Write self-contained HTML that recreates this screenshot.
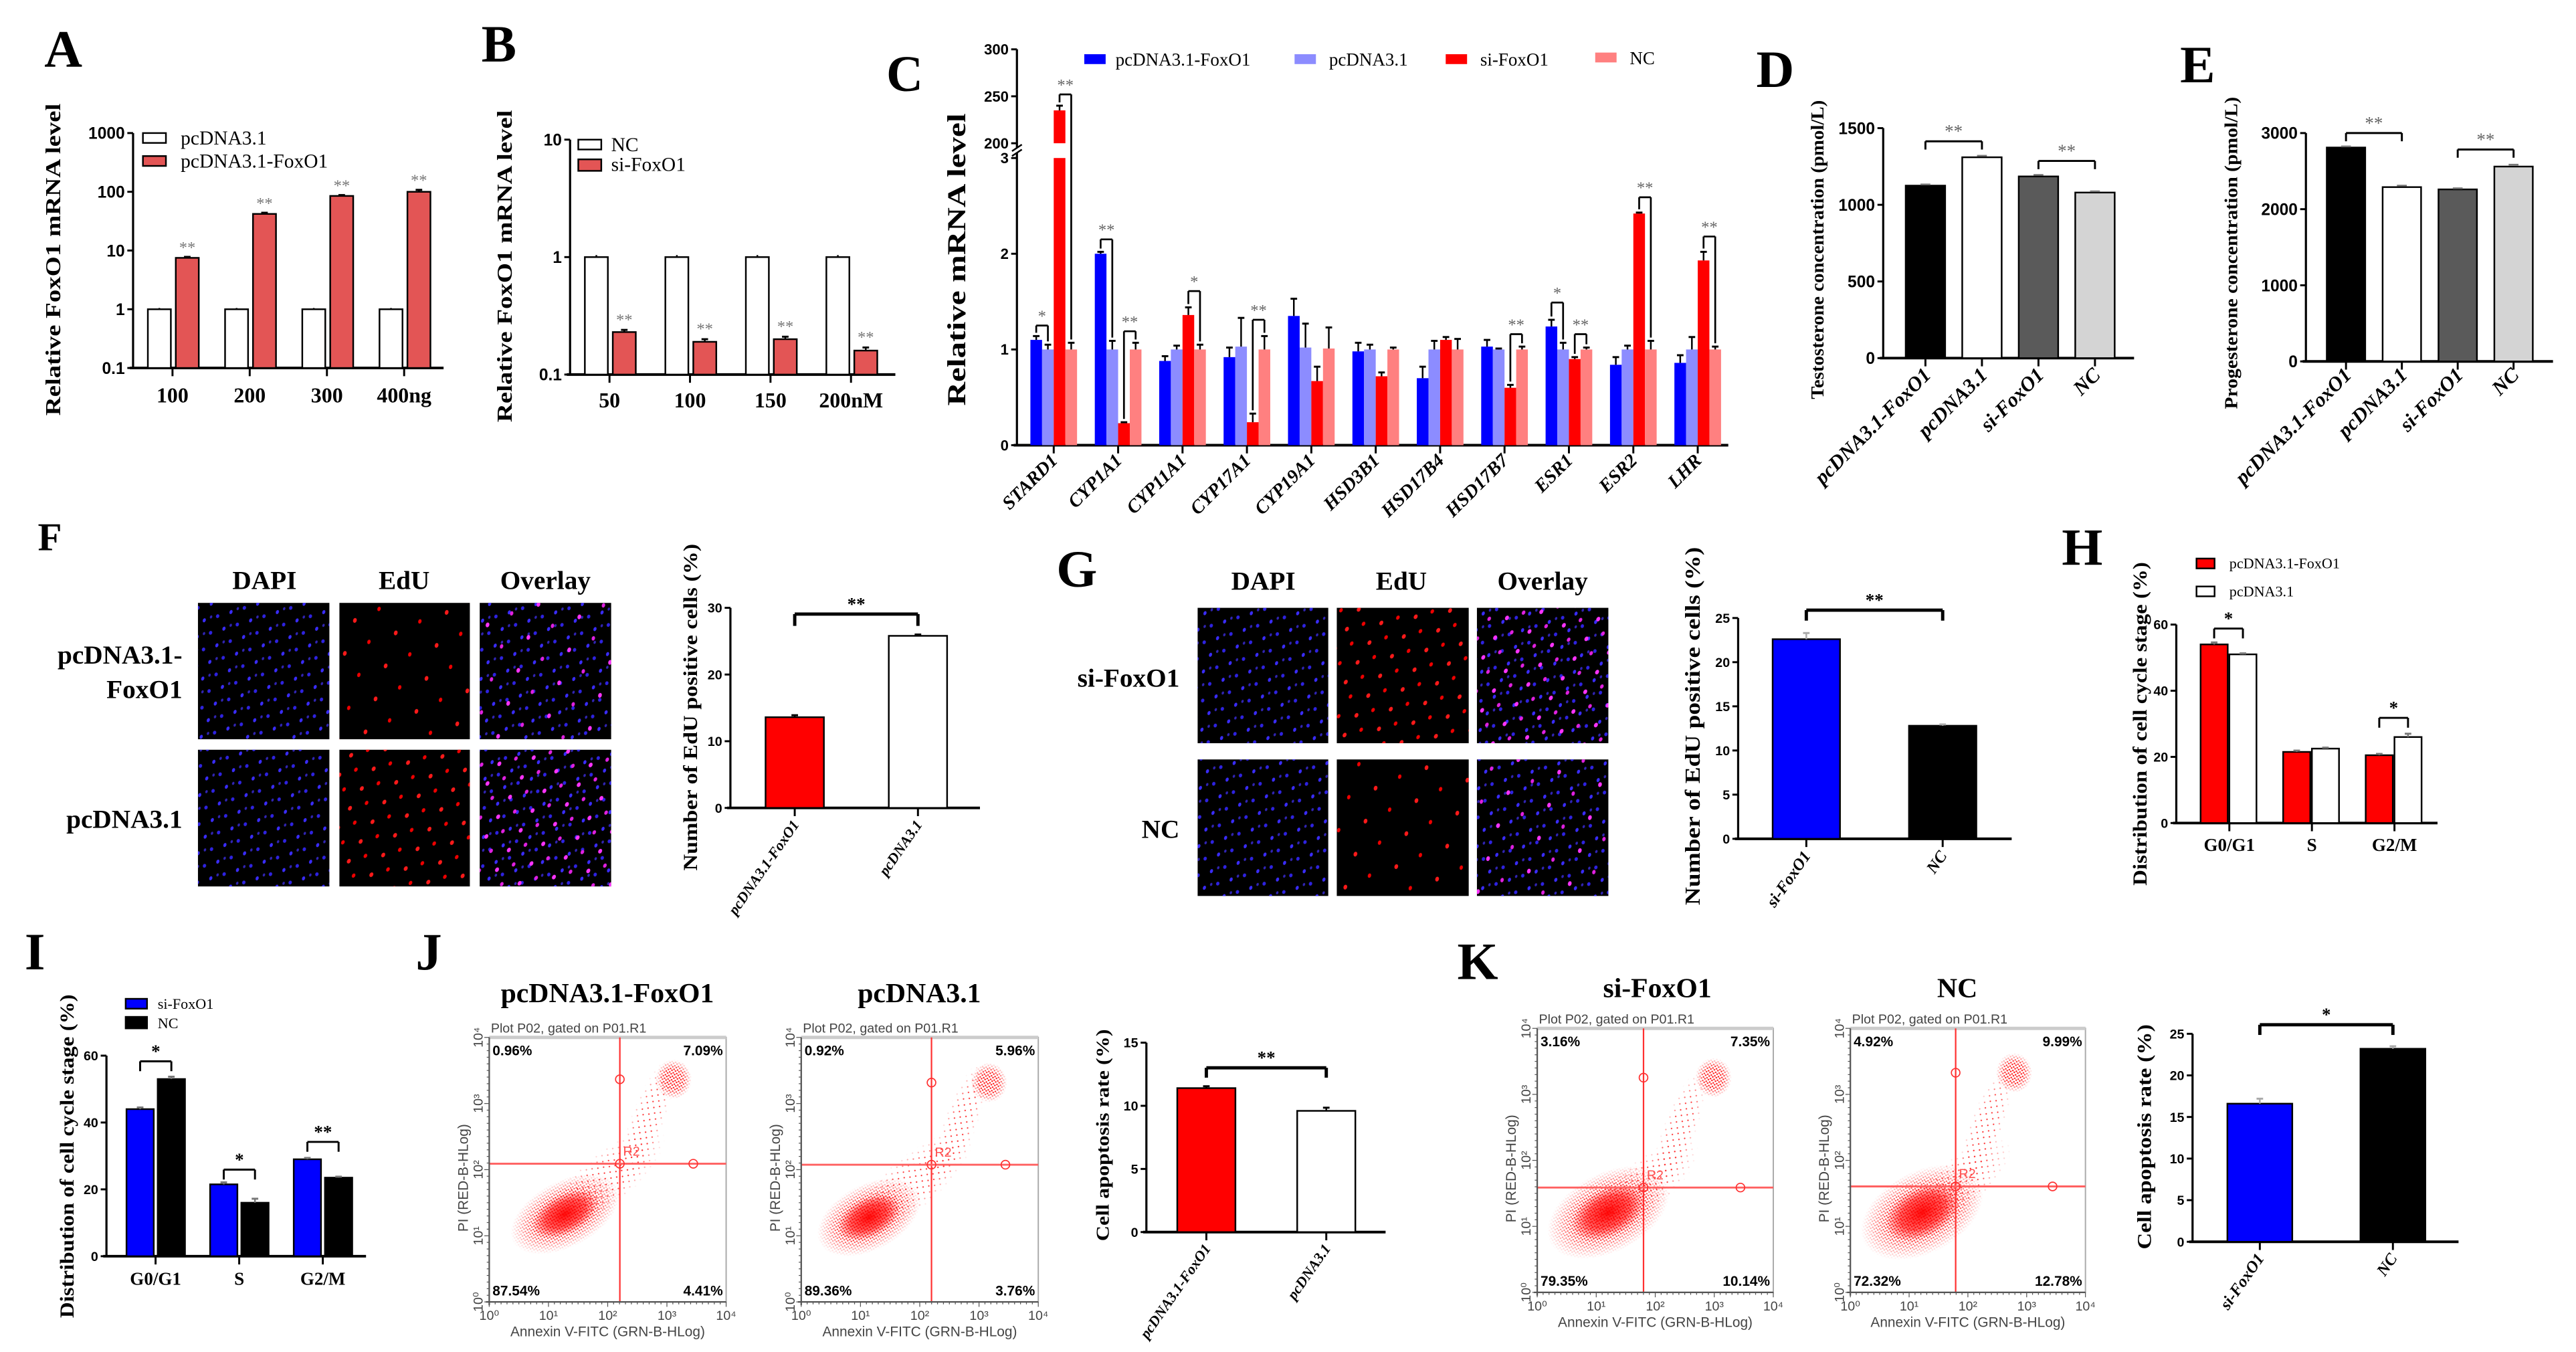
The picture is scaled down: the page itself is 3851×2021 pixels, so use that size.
<!DOCTYPE html>
<html><head><meta charset="utf-8"><style>
html,body{margin:0;padding:0;background:#fff;}
svg{display:block;}
</style></head><body>
<svg id="fig" xmlns="http://www.w3.org/2000/svg" width="3851" height="2021" viewBox="0 0 1568 823" preserveAspectRatio="none">
<defs>
<pattern id="dapiPat" width="13" height="11" patternUnits="userSpaceOnUse" patternTransform="rotate(23)">
<ellipse cx="2" cy="2" rx="0.9" ry="1.3" fill="#3a2cff"/><ellipse cx="8.5" cy="7.5" rx="1" ry="1.2" fill="#2e22e0"/><ellipse cx="5" cy="9.5" rx="0.7" ry="1" fill="#4433ff" opacity="0.7"/>
</pattern>
<pattern id="eduPat" width="26" height="21" patternUnits="userSpaceOnUse" patternTransform="rotate(17)">
<ellipse cx="5" cy="4" rx="1.1" ry="1.5" fill="#ff1a1a"/><ellipse cx="17" cy="14" rx="1" ry="1.4" fill="#e00"/>
</pattern>
<pattern id="eduPat2" width="16" height="14" patternUnits="userSpaceOnUse" patternTransform="rotate(31)">
<ellipse cx="4" cy="4" rx="1.1" ry="1.5" fill="#ff1a1a"/><ellipse cx="11" cy="10" rx="1" ry="1.4" fill="#e00"/>
</pattern>
<pattern id="magPat" width="16" height="14" patternUnits="userSpaceOnUse" patternTransform="rotate(31)">
<ellipse cx="4" cy="4" rx="1.1" ry="1.5" fill="#ff33ff"/><ellipse cx="11" cy="10" rx="1" ry="1.4" fill="#e020e0"/>
</pattern>
<pattern id="magPat1" width="26" height="21" patternUnits="userSpaceOnUse" patternTransform="rotate(17)">
<ellipse cx="5" cy="4" rx="1.1" ry="1.5" fill="#ff33ff"/><ellipse cx="17" cy="14" rx="1" ry="1.4" fill="#e020e0"/>
</pattern>
<pattern id="dotPat" width="2.2" height="2.2" patternUnits="userSpaceOnUse" patternTransform="rotate(13)">
<circle cx="0.6" cy="0.7" r="0.5" fill="#ff1010"/><circle cx="1.7" cy="1.6" r="0.5" fill="#ff1010"/>
</pattern>
<pattern id="sparsePat" width="5" height="5" patternUnits="userSpaceOnUse" patternTransform="rotate(37)">
<circle cx="1" cy="1.3" r="0.45" fill="#ff2020"/><circle cx="3.6" cy="3.9" r="0.45" fill="#ff2020"/>
</pattern>
<radialGradient id="fade"><stop offset="0" stop-color="#fff"/><stop offset="0.55" stop-color="#fff" stop-opacity="0.9"/><stop offset="1" stop-color="#fff" stop-opacity="0"/></radialGradient>
<radialGradient id="coreGrad"><stop offset="0" stop-color="#ff0000" stop-opacity="0.95"/><stop offset="0.6" stop-color="#ff0000" stop-opacity="0.6"/><stop offset="1" stop-color="#ff0000" stop-opacity="0"/></radialGradient>
</defs>

<g>
<text x="23" y="335" font-family="Liberation Serif" font-weight="bold" font-size="24">F</text>
<text x="161" y="358.5" text-anchor="middle" font-family="Liberation Serif" font-weight="bold" font-size="16">DAPI</text>
<text x="246" y="358.5" text-anchor="middle" font-family="Liberation Serif" font-weight="bold" font-size="16">EdU</text>
<text x="332" y="358.5" text-anchor="middle" font-family="Liberation Serif" font-weight="bold" font-size="16">Overlay</text>
<text x="111" y="404" text-anchor="end" font-family="Liberation Serif" font-weight="bold" font-size="16">pcDNA3.1-</text>
<text x="111" y="425" text-anchor="end" font-family="Liberation Serif" font-weight="bold" font-size="16">FoxO1</text>
<text x="111" y="504" text-anchor="end" font-family="Liberation Serif" font-weight="bold" font-size="16">pcDNA3.1</text>
<rect x="120.5" y="367" width="80" height="83" fill="#000"/><rect x="120.5" y="367" width="80" height="83" fill="url(#dapiPat)"/>
<rect x="206.6" y="367" width="79.4" height="83" fill="#000"/><rect x="206.6" y="367" width="79.4" height="83" fill="url(#eduPat)"/>
<rect x="292" y="367" width="80" height="83" fill="#000"/><rect x="292" y="367" width="80" height="83" fill="url(#dapiPat)"/><rect x="292" y="367" width="80" height="83" fill="url(#magPat1)"/>
<rect x="120.5" y="456.4" width="80" height="83.2" fill="#000"/><rect x="120.5" y="456.4" width="80" height="83.2" fill="url(#dapiPat)"/>
<rect x="206.6" y="456.4" width="79.4" height="83.2" fill="#000"/><rect x="206.6" y="456.4" width="79.4" height="83.2" fill="url(#eduPat2)"/>
<rect x="292" y="456.4" width="80" height="83.2" fill="#000"/><rect x="292" y="456.4" width="80" height="83.2" fill="url(#dapiPat)"/><rect x="292" y="456.4" width="80" height="83.2" fill="url(#magPat)"/>
</g>
<g>
<text x="643" y="357" font-family="Liberation Serif" font-weight="bold" font-size="32">G</text>
<text x="769" y="359" text-anchor="middle" font-family="Liberation Serif" font-weight="bold" font-size="16">DAPI</text>
<text x="853" y="359" text-anchor="middle" font-family="Liberation Serif" font-weight="bold" font-size="16">EdU</text>
<text x="939" y="359" text-anchor="middle" font-family="Liberation Serif" font-weight="bold" font-size="16">Overlay</text>
<text x="718" y="418" text-anchor="end" font-family="Liberation Serif" font-weight="bold" font-size="16">si-FoxO1</text>
<text x="718" y="510" text-anchor="end" font-family="Liberation Serif" font-weight="bold" font-size="16">NC</text>
<rect x="729" y="370" width="79.5" height="82.4" fill="#000"/><rect x="729" y="370" width="79.5" height="82.4" fill="url(#dapiPat)"/>
<rect x="813.7" y="370" width="80.3" height="82.4" fill="#000"/><rect x="813.7" y="370" width="80.3" height="82.4" fill="url(#eduPat2)"/>
<rect x="899" y="370" width="80" height="82.4" fill="#000"/><rect x="899" y="370" width="80" height="82.4" fill="url(#dapiPat)"/><rect x="899" y="370" width="80" height="82.4" fill="url(#magPat)"/>
<rect x="729" y="462.3" width="79.5" height="83.1" fill="#000"/><rect x="729" y="462.3" width="79.5" height="83.1" fill="url(#dapiPat)"/>
<rect x="813.7" y="462.3" width="80.3" height="83.1" fill="#000"/><rect x="813.7" y="462.3" width="80.3" height="83.1" fill="url(#eduPat)"/>
<rect x="899" y="462.3" width="80" height="83.1" fill="#000"/><rect x="899" y="462.3" width="80" height="83.1" fill="url(#dapiPat)"/><rect x="899" y="462.3" width="80" height="83.1" fill="url(#magPat1)"/>
</g>
</svg>
<script>
// ---------- DATA ----------
const aCats = ['100','200','300','400ng'];
const aCtrl = [1,1,1,1];
const aFox = [7.5,42,85,100];
const aFoxErr = [0.3,2,3,8];
const aTicks = [0.1,1,10,100,1000];
const aTickLabels = ['0.1','1','10','100','1000'];

const bCats = ['50','100','150','200nM'];
const bNC = [1,1,1,1];
const bSi = [0.23,0.19,0.2,0.16];
const bSiErr = [0.01,0.01,0.01,0.01];
const bTicks = [0.1,1,10];
const bTickLabels = ['0.1','1','10'];

const cGenes = ['STARD1','CYP1A1','CYP11A1','CYP17A1','CYP19A1','HSD3B1','HSD17B4','HSD17B7','ESR1','ESR2','LHR'];
const cFox = [1.1,2.0,0.88,0.92,1.35,0.98,0.7,1.03,1.24,0.84,0.86];
const cPc = [1.0,1.0,1.0,1.03,1.02,1.0,1.0,1.0,1.0,1.0,1.0];
const cSi = [235,0.23,1.36,0.24,0.67,0.72,1.1,0.6,0.9,2.42,1.93];
const cNC = [1.0,1.0,1.0,1.0,1.01,1.0,1.0,1.0,1.0,1.0,1.0];
const cFoxErr = [0.04,0.02,0.05,0.1,0.18,0.09,0.12,0.07,0.07,0.08,0.08];
const cPcErr = [0.05,0.09,0.04,0.3,0.25,0.05,0.09,0.01,0.07,0.04,0.13];
const cSiErr = [5,0.01,0.08,0.09,0.15,0.04,0.03,0.03,0.02,0.01,0.09];
const cNCErr = [0.07,0.07,0.05,0.14,0.22,0.02,0.11,0.03,0.02,0.09,0.03];
const cLowTicks = [0,1,2,3];
const cHighTicks = [200,250,300];
const cSigGene = [0,0,1,1,2,3,7,8,8,9,10];
const cSigPair = ['bl','rn','bl','rn','rn','rn','rn','bl','rn','rn','rn'];
const cSigLabel = ['*','**','**','**','*','**','**','*','**','**','**'];
const cSigLevel = [1.25,252,2.15,1.19,1.61,1.31,1.16,1.49,1.16,2.59,2.18];

const dCats = ['pcDNA3.1-FoxO1','pcDNA3.1','si-FoxO1','NC'];
const dVals = [1125,1310,1185,1080];
const dErr = [8,10,10,8];
const dTicks = [0,500,1000,1500];
const dSigFrom = [0,2]; const dSigTo = [1,3]; const dSigLevel = [1414,1286]; const dSigLabel = ['**','**'];

const eCats = ['pcDNA3.1-FoxO1','pcDNA3.1','si-FoxO1','NC'];
const eVals = [2810,2290,2260,2560];
const eErr = [15,20,15,25];
const eTicks = [0,1000,2000,3000];
const eSigFrom = [0,2]; const eSigTo = [1,3]; const eSigLevel = [3000,2784]; const eSigLabel = ['**','**'];

const fCats = ['pcDNA3.1-FoxO1','pcDNA3.1'];
const fVals = [13.6,25.8];
const fErr = [0.3,0.2];
const fTicks = [0,10,20,30];

const gCats = ['si-FoxO1','NC'];
const gVals = [22.6,12.8];
const gErr = [0.7,0.15];
const gTicks = [0,5,10,15,20,25];

const hCats = ['G0/G1','S','G2/M'];
const hFox = [54,21.5,20.5];
const hPc = [51,22.5,26];
const hFoxErr = [0.6,0.4,0.4];
const hPcErr = [0.3,0.3,1.0];
const hTicks = [0,20,40,60];
const hSigGroup = [0,2]; const hSigLevel = [58.8,31.8]; const hSigLabel = ['*','*'];

const iCats = ['G0/G1','S','G2/M'];
const iSi = [44,21.5,29];
const iNC = [53,16,23.5];
const iSiErr = [0.5,0.6,0.4];
const iNCErr = [0.7,1.2,0.3];
const iTicks = [0,20,40,60];
const iSigGroup = [0,1,2]; const iSigLevel = [58.3,25.9,34.2]; const iSigLabel = ['*','*','**'];

const jCats = ['pcDNA3.1-FoxO1','pcDNA3.1'];
const jVals = [11.4,9.6];
const jErr = [0.15,0.25];
const jTicks = [0,5,10,15];

const kCats = ['si-FoxO1','NC'];
const kVals = [16.6,23.2];
const kErr = [0.6,0.3];
const kTicks = [0,5,10,15,20,25];

const jPcts1 = ['0.96%','7.09%','87.54%','4.41%'];
const jPcts2 = ['0.92%','5.96%','89.36%','3.76%'];
const kPcts1 = ['3.16%','7.35%','79.35%','10.14%'];
const kPcts2 = ['4.92%','9.99%','72.32%','12.78%'];

// ---------- HELPERS ----------
const NS='http://www.w3.org/2000/svg';
const svg=document.getElementById('fig');
const SERIF='Liberation Serif, serif';
const NARROW='Liberation Sans Narrow, Liberation Sans, sans-serif';
function mk(tag, attrs, parent){const e=document.createElementNS(NS,tag);for(const k in attrs)e.setAttribute(k,attrs[k]);(parent||svg).appendChild(e);return e;}
function T(parent,x,y,s,attrs){const e=mk('text',Object.assign({x:x,y:y},attrs||{}),parent);e.textContent=s;return e;}
function group(name){const g=mk('g',{});


return g;}
function line(g,x1,y1,x2,y2,col,w){return mk('line',{x1:x1,y1:y1,x2:x2,y2:y2,stroke:col||'#000','stroke-width':w||1.3},g);}
function letter(g,s,x,y,fs){const t=T(g,x,y,s,{'font-family':SERIF,'font-weight':'bold','font-size':fs||32});

}
function yTitle(g,cx,cy,s,fs,len){const x=cx+fs*0.35;const t=T(g,x,cy,s,{'font-family':SERIF,'font-weight':'bold','font-size':fs,'text-anchor':'middle',transform:'rotate(-90 '+x+' '+cy+')',textLength:len,lengthAdjust:'spacingAndGlyphs'});

}
function yAxis(g,x,yb,yt,vals,labels,yf,fs,extraTopPad){line(g,x,yb,x,yt-(extraTopPad||0),'#000',1.3);
for(let i=0;i<vals.length;i++){const y=yf(vals[i]);line(g,x-3.5,y,x,y,'#000',1.2);
const t=T(g,x-5,y+fs*0.36,labels?labels[i]:String(vals[i]),{'font-family':NARROW,'font-weight':'bold','font-size':fs,'text-anchor':'end'});

}}
function xAxis(g,x0,x1,y,centers){line(g,x0,y,x1,y,'#000',1.6);for(const c of centers)line(g,c,y,c,y+5,'#000',1.2);}
function bar(g,x,w,y0,y,fill,stroke,name){const r=mk('rect',{x:x,y:Math.min(y,y0),width:w,height:Math.abs(y0-y),fill:fill,stroke:stroke||'none','stroke-width':stroke?1:0},g);


return r;}
function err(g,cx,y,ye,col){line(g,cx,y,cx,ye,col||'#000',1);line(g,cx-2,ye,cx+2,ye,col||'#000',1.2);}
function bracket(g,x1,x2,yl,yb1,yb2,label,col,fs,w,bold){line(g,x1,yb1,x1,yl,'#000',w||1.1);line(g,x1,yl,x2,yl,'#000',w||1.1);line(g,x2,yl,x2,yb2,'#000',w||1.1);
const t=T(g,(x1+x2)/2,yl-2.5,label,{'font-family':SERIF,'font-size':fs||10,'text-anchor':'middle',fill:col||'#666','font-weight':bold?'bold':'normal'});

}
function rotLabel(g,x,y,s,ang,fs,ital){const t=T(g,x,y,s,{'font-family':SERIF,'font-weight':'bold','font-style':ital?'italic':'normal','font-size':fs,'text-anchor':'end',transform:'rotate('+ang+' '+x+' '+y+')'});

}
function xLabel(g,x,y,s,fs){const t=T(g,x,y,s,{'font-family':SERIF,'font-weight':'bold','font-size':fs,'text-anchor':'middle'});

}
function legendEntry(g,x,y,w,h,fill,stroke,label,fs,tx,ty){const r=mk('rect',{x:x,y:y,width:w,height:h,fill:fill,stroke:stroke||'none','stroke-width':1},g);


const t=T(g,tx,ty,label,{'font-family':SERIF,'font-size':fs});

}

// ---------- PANEL A ----------
(function(){const g=group('panel-a-chart');letter(g,'A',27,40.5);
const yf=v=>224-(Math.log10(v)+1)*35.75;const cx=i=>105+i*47;
yAxis(g,81,224,81,aTicks,aTickLabels,yf,10);
xAxis(g,79,270,224,aCats.map((c,i)=>cx(i)));
for(let i=0;i<aCats.length;i++){
bar(g,cx(i)-15,14,224,yf(aCtrl[i]),'#fff','#000','bar-pcdna');
line(g,cx(i)-8,yf(aCtrl[i]),cx(i)-8,yf(aCtrl[i]*1.05),'#000',1);
bar(g,cx(i)+2,14,224,yf(aFox[i]),'#e35555','#000','bar-pcdna-foxo1');
err(g,cx(i)+9,yf(aFox[i]),yf(aFox[i]+aFoxErr[i]));
const s=T(g,cx(i)+9,yf(aFox[i]+aFoxErr[i])-2.5,'**',{'font-family':SERIF,'font-size':10,'text-anchor':'middle',fill:'#777'});


xLabel(g,cx(i),245,aCats[i],13);}
legendEntry(g,87,81,14,6,'#fff','#000','pcDNA3.1',12,110,88);
legendEntry(g,87,95,14,6,'#e35555','#000','pcDNA3.1-FoxO1',12,110,102);
yTitle(g,32,158,'Relative FoxO1 mRNA level',13,190);})();

// ---------- PANEL B ----------
(function(){const g=group('panel-b-chart');letter(g,'B',293,37.5);
const yf=v=>228-(Math.log10(v)+1)*71.5;const cx=i=>371+i*49;
yAxis(g,347,228,85,bTicks,bTickLabels,yf,10);
xAxis(g,345,545,228,bCats.map((c,i)=>cx(i)));
for(let i=0;i<bCats.length;i++){
bar(g,cx(i)-15,14,228,yf(bNC[i]),'#fff','#000','bar-nc');
line(g,cx(i)-8,yf(bNC[i]),cx(i)-8,yf(bNC[i]*1.04),'#000',1);
bar(g,cx(i)+2,14,228,yf(bSi[i]),'#e35555','#000','bar-si-foxo1');
err(g,cx(i)+9,yf(bSi[i]),yf(bSi[i]+bSiErr[i]));
const s=T(g,cx(i)+9,yf(bSi[i]+bSiErr[i])-3,'**',{'font-family':SERIF,'font-size':10,'text-anchor':'middle',fill:'#777'});


xLabel(g,cx(i),248,bCats[i],13);}
legendEntry(g,352,85,14,6,'#fff','#000','NC',12,372,92);
legendEntry(g,352,97,14,7,'#e35555','#000','si-FoxO1',12,372,104);
yTitle(g,307,162,'Relative FoxO1 mRNA level',13,190);})();

// ---------- PANEL C ----------
(function(){const g=group('panel-c-chart');letter(g,'C',539.5,55.4,31);
const ylo=v=>271-v*58.27;const yhi=v=>87.2-(v-200)*0.5717;
const yv=v=>v>=200?yhi(v):ylo(v);
const tx=i=>641.4+i*39.2;const bw=7.1;
line(g,619,271,619,93,'#000',1.3);line(g,619,90,619,30,'#000',1.3);
line(g,616,95,622,91,'#000',1);line(g,616,92,622,88,'#000',1);
for(const v of cLowTicks){line(g,615.5,ylo(v),619,ylo(v),'#000',1.2);const t=T(g,614,ylo(v)+3.2,String(v),{'font-family':NARROW,'font-weight':'bold','font-size':9,'text-anchor':'end'});

}
for(const v of cHighTicks){line(g,615.5,yhi(v),619,yhi(v),'#000',1.2);const t=T(g,614,yhi(v)+3.2,String(v),{'font-family':NARROW,'font-weight':'bold','font-size':9,'text-anchor':'end'});

}
xAxis(g,617,1052,271,cGenes.map((c,i)=>tx(i)));
const series=[[cFox,cFoxErr,'#0000ff','bar-pcdna-foxo1'],[cPc,cPcErr,'#8c8cff','bar-pcdna'],[cSi,cSiErr,'#ff0000','bar-si-foxo1'],[cNC,cNCErr,'#ff8080','bar-nc']];
const topOf=(s,i)=>yv(series[s][0][i]+series[s][1][i]);
for(let i=0;i<cGenes.length;i++){
for(let s=0;s<4;s++){const v=series[s][0][i],e=series[s][1][i];const x=tx(i)-14.2+s*bw;
if(v>=200){bar(g,x,bw,271,ylo(3),series[s][2],null,series[s][3]);bar(g,x,bw,yhi(200),yhi(v),series[s][2],null,series[s][3]);}
else bar(g,x,bw,271,ylo(v),series[s][2],null,series[s][3]);
err(g,x+bw/2,yv(v),yv(v+e));}
rotLabel(g,tx(i)+3,281,cGenes[i],-45,11.5,true);}
for(let k=0;k<cSigGene.length;k++){const i=cSigGene[k];const a=cSigPair[k]==='bl'?0:2;
const x1=tx(i)-14.2+a*bw+bw/2,x2=x1+bw;const yl=yv(cSigLevel[k]);
bracket(g,x1,x2,yl,topOf(a,i)-2,topOf(a+1,i)-2,cSigLabel[k],'#666',10,1.1);}
legendEntry(g,660,33,13,6,'#0000ff',null,'pcDNA3.1-FoxO1',11,679,40);
legendEntry(g,788,33,13,6,'#8c8cff',null,'pcDNA3.1',11,809,40);
legendEntry(g,880,33,13,6,'#ff0000',null,'si-FoxO1',11,901,40);
legendEntry(g,971,32,13,6,'#ff8080',null,'NC',11,992,39);
yTitle(g,582,158,'Relative mRNA level',16,178);})();

// ---------- PANELS D/E ----------
function concChart(name,L,lx,ly,ax,y0,ytop,vmax,xEnd,c0,step,bw,vals,errs,ticks,cats,sf,st,sl,slab,title,tcx,tcy,tlen){
const g=group(name);letter(g,L,lx,ly);
const yf=v=>y0-v*(y0-ytop)/vmax;const cx=i=>c0+i*step;
yAxis(g,ax,y0,ytop,ticks,null,yf,10);
xAxis(g,ax-2,xEnd,y0,cats.map((c,i)=>cx(i)));
const fills=['#000','#fff','#5a5a5a','#d4d4d4'];
const names=['bar-pcdna-foxo1','bar-pcdna','bar-si-foxo1','bar-nc'];
for(let i=0;i<vals.length;i++){bar(g,cx(i)-bw/2,bw,y0,yf(vals[i]),fills[i],'#000',names[i]);
line(g,cx(i)-3,yf(vals[i]+errs[i]),cx(i)+3,yf(vals[i]+errs[i]),'#777',1);
rotLabel(g,cx(i)+4,229,cats[i],-45,12.5,true);}
for(let k=0;k<sf.length;k++){const yl=yf(sl[k]);bracket(g,cx(sf[k]),cx(st[k]),yl,yl+5,yl+5,slab[k],'#666',11,1.2);}
yTitle(g,tcx,tcy,title,11,tlen);}
concChart('panel-d-chart','D',1069,53,1146.3,218,78,1500,1299,1172,34.4,24,dVals,dErr,dTicks,dCats,dSigFrom,dSigTo,dSigLevel,dSigLabel,'Testosterone concentration (pmol/L)',1106,152,182);
concChart('panel-e-chart','E',1327,50,1403.6,220,81,3000,1554,1428,34,23.4,eVals,eErr,eTicks,eCats,eSigFrom,eSigTo,eSigLevel,eSigLabel,'Progesterone concentration (pmol/L)',1358,154,190);

// ---------- TWO-BAR CHARTS (F, G, J, K) ----------
function twoBar(name,ax,y0,ytop,vmax,xEnd,lefts,bw,vals,errs,ticks,cats,fills,names,errCol,yl,legY,slab,title,tcx,tcy,tlen,tfs,lfs,labY){
const g=group(name);const yf=v=>y0-v*(y0-ytop)/vmax;
yAxis(g,ax,y0,ytop,ticks,null,yf,8);
const cs=lefts.map(l=>l+bw/2);
xAxis(g,ax-2,xEnd,y0,cs);
for(let i=0;i<vals.length;i++){bar(g,lefts[i],bw,y0,yf(vals[i]),fills[i],'#000',names[i]);
err(g,cs[i],yf(vals[i]),yf(vals[i]+errs[i]),errCol);
rotLabel(g,cs[i]+3,labY,cats[i],-55,lfs,true);}
bracket(g,cs[0],cs[1],yl,legY,legY,slab,'#000',11,2,true);
yTitle(g,tcx,tcy,title,tfs,tlen);}
twoBar('panel-f-chart',444.6,491.8,370,30,596.5,[466,541],35.5,fVals,fErr,fTicks,fCats,['#ff0000','#fff'],['bar-pcdna-foxo1','bar-pcdna'],'#000',373.8,381,'**','Number of EdU positive cells (%)',420,430.5,199,12,9,502);
twoBar('panel-g-chart',1058,510.6,376.2,25,1224.5,[1079,1162],41,gVals,gErr,gTicks,gCats,['#0000ff','#000'],['bar-si-foxo1','bar-nc'],'#aaa',371.4,377.8,'**','Number of EdU positive cells (%)',1030,442,218,13,10,521);
twoBar('panel-j-chart',697.8,750,634.7,15,843.4,[716.6,789.6],35.4,jVals,jErr,jTicks,jCats,['#ff0000','#fff'],['bar-pcdna-foxo1','bar-pcdna'],'#000',650,656,'**','Cell apoptosis rate (%)',671,691,129,11,9,760);
twoBar('panel-k-chart',1334.6,755.9,629.3,25,1496.5,[1355.8,1436.8],39.5,kVals,kErr,kTicks,kCats,['#0000ff','#000'],['bar-si-foxo1','bar-nc'],'#aaa',623.8,630,'*','Cell apoptosis rate (%)',1305,692,137,12,10,766);

// ---------- GROUPED (H, I) ----------
function cycleChart(name,L,lx,ly,ax,y0,ytop,xEnd,c0,step,offA,offB,bw,A,B,Ae,Be,ticks,cats,fillA,fillB,nameA,nameB,sg,sl,slab,labY,title,tcx,tcy,tlen){
const g=group(name);letter(g,L,lx,ly);
const yf=v=>y0-v*(y0-ytop)/60;const cx=i=>c0+i*step;
yAxis(g,ax,y0,ytop,ticks,null,yf,8);
xAxis(g,ax-2,xEnd,y0,cats.map((c,i)=>cx(i)));
for(let i=0;i<cats.length;i++){
bar(g,cx(i)+offA,bw,y0,yf(A[i]),fillA,'#000',nameA);err(g,cx(i)+offA+bw/2,yf(A[i]),yf(A[i]+Ae[i]),'#777');
bar(g,cx(i)+offB,bw,y0,yf(B[i]),fillB,'#000',nameB);err(g,cx(i)+offB+bw/2,yf(B[i]),yf(B[i]+Be[i]),'#777');
xLabel(g,cx(i),labY,cats[i],11);}
for(let k=0;k<sg.length;k++){const i=sg[k];const yl=yf(sl[k]);bracket(g,cx(i)+offA+bw/2,cx(i)+offB+bw/2,yl,yl+6,yl+6,slab[k],'#000',11,1.2,true);}
yTitle(g,tcx,tcy,title,12,tlen);return g;}
const gh=cycleChart('panel-h-chart','H',1255,344,1324.7,501,380.2,1483.7,1357,50.25,-17.5,0,16.5,hFox,hPc,hFoxErr,hPcErr,hTicks,hCats,'#ff0000','#fff','bar-pcdna-foxo1','bar-pcdna',hSigGroup,hSigLevel,hSigLabel,518,'Distribution of cell cycle stage (%)',1302.5,440.6,197);
legendEntry(gh,1337,340,11,6,'#ff0000','#000','pcDNA3.1-FoxO1',9,1357,346);
legendEntry(gh,1337,357,11,6,'#fff','#000','pcDNA3.1',9,1357,363);
const gi=cycleChart('panel-i-chart','I',15,590,64.8,764.7,642.6,222.8,94.7,50.9,-17.7,1.3,16.6,iSi,iNC,iSiErr,iNCErr,iTicks,iCats,'#0000ff','#000','bar-si-foxo1','bar-nc',iSigGroup,iSigLevel,iSigLabel,782,'Distribution of cell cycle stage (%)',40.5,703.8,197);
legendEntry(gi,76.5,608,13,6,'#0000ff','#000','si-FoxO1',9,96,614);
legendEntry(gi,76.5,619,13,7,'#000','#000','NC',9,96,626);

// ---------- FLOW PLOTS ----------
let maskId=0;
function blob(g,cx,cy,rx,ry,rot,pat,core){const id='m'+(maskId++);
const m=mk('mask',{id:id},g);mk('ellipse',{cx:cx,cy:cy,rx:rx,ry:ry,fill:'url(#fade)',transform:'rotate('+rot+' '+cx+' '+cy+')'},m);
mk('rect',{x:cx-rx-ry,y:cy-rx-ry,width:2*(rx+ry),height:2*(rx+ry),fill:'url(#'+pat+')',mask:'url(#'+id+')'},g);
if(core)mk('ellipse',{cx:cx,cy:cy,rx:rx*0.6,ry:ry*0.6,fill:'url(#coreGrad)',transform:'rotate('+rot+' '+cx+' '+cy+')'},g);}
function flow(name,x0,y0,x1,y1,vx,hy,main,upper,pcts){
const g=group(name);
mk('rect',{x:x0,y:y0,width:x1-x0,height:y1-y0,fill:'#fff',stroke:'#aaa','stroke-width':0.8},g);
line(g,x0,y0,x1,y0,'#ccc',2);
blob(g,(main[0]+vx)/2+6,(main[1]+hy)/2-4,48,16,-40,'sparsePat',false);
blob(g,(vx+upper[0])/2,(upper[1]+hy)/2,40,10,-70,'sparsePat',false);
blob(g,main[0],main[1],main[2],main[3],-28,'dotPat',true);
blob(g,upper[0],upper[1],11,12,0,'dotPat',false);
line(g,vx,y0,vx,y1,'#ff3030',0.9);line(g,x0,hy,x1,hy,'#ff6060',1.2);
for(const p of [[vx,upper[1]],[vx,hy],[x1-20,hy]])mk('circle',{cx:p[0],cy:p[1],r:2.6,fill:'none',stroke:'#ff3030','stroke-width':0.7},g);
T(g,vx+2,hy-5,'R2',{'font-family':NARROW,'font-size':8,fill:'#ff5050'});
line(g,x0,y0,x0,y1+2,'#555',0.9);line(g,x0-2,y1,x1,y1,'#555',0.9);
for(let i=0;i<=40;i++){const x=x0+i*(x1-x0)/40;line(g,x,y1,x,y1+(i%10===0?3:1.5),'#555',0.5);
const y=y1-i*(y1-y0)/40;line(g,x0-(i%10===0?3:1.5),y,x0,y,'#555',0.5);}
const sup=['⁰','¹','²','³','⁴'];
for(let i=0;i<=4;i++){const x=x0+i*(x1-x0)/4;const t=T(g,x,y1+11,'10'+sup[i],{'font-family':NARROW,'font-size':8,fill:'#444','text-anchor':'middle'});


const y=y1-i*(y1-y0)/4;const t2=T(g,x0-4,y,'10'+sup[i],{'font-family':NARROW,'font-size':8,fill:'#444','text-anchor':'middle',transform:'rotate(-90 '+(x0-4)+' '+y+')'});

}
const xt=T(g,(x0+x1)/2,y1+21,'Annexin V-FITC (GRN-B-HLog)',{'font-family':NARROW,'font-size':8.5,fill:'#444','text-anchor':'middle'});


const yc=(y0+y1)/2+5;const yt=T(g,x0-13,yc,'PI (RED-B-HLog)',{'font-family':NARROW,'font-size':8.5,fill:'#444','text-anchor':'middle',transform:'rotate(-90 '+(x0-13)+' '+yc+')'});


const hd=T(g,x0+1,y0-3,'Plot P02, gated on P01.R1',{'font-family':NARROW,'font-size':8,fill:'#444'});


const pos=[[x0+2,y0+11,'start'],[x1-2,y0+11,'end'],[x0+2,y1-4,'start'],[x1-2,y1-4,'end']];
for(let i=0;i<4;i++){const t=T(g,pos[i][0],pos[i][1],pcts[i],{'font-family':NARROW,'font-weight':'bold','font-size':8.5,'text-anchor':pos[i][2]});

}
return g;}
const gj=group('panel-j-titles');letter(gj,'J',253,590);
T(gj,369.7,610,'pcDNA3.1-FoxO1',{'font-family':SERIF,'font-weight':'bold','font-size':17,'text-anchor':'middle'});
T(gj,559.6,610,'pcDNA3.1',{'font-family':SERIF,'font-weight':'bold','font-size':17,'text-anchor':'middle'});
flow('flow-plot-pcdna-foxo1',297.8,631.5,442,792.5,377.3,708.4,[344,739,36,20],[410,657],jPcts1);
flow('flow-plot-pcdna',487.7,631.5,632,792.5,567,709,[529,741,34,20],[602,659],jPcts2);
const gk=group('panel-k-titles');letter(gk,'K',887,596);
T(gk,1008.8,607,'si-FoxO1',{'font-family':SERIF,'font-weight':'bold','font-size':17,'text-anchor':'middle'});
T(gk,1191.4,607,'NC',{'font-family':SERIF,'font-weight':'bold','font-size':17,'text-anchor':'middle'});
flow('flow-plot-si-foxo1',935.7,626,1079.4,786.7,1000.4,722.9,[979,738,40,24],[1043,656],kPcts1);
flow('flow-plot-nc',1126.3,626,1269.4,786.7,1190.4,722.2,[1170,738,40,25],[1226,653],kPcts2);
</script>
</body></html>
